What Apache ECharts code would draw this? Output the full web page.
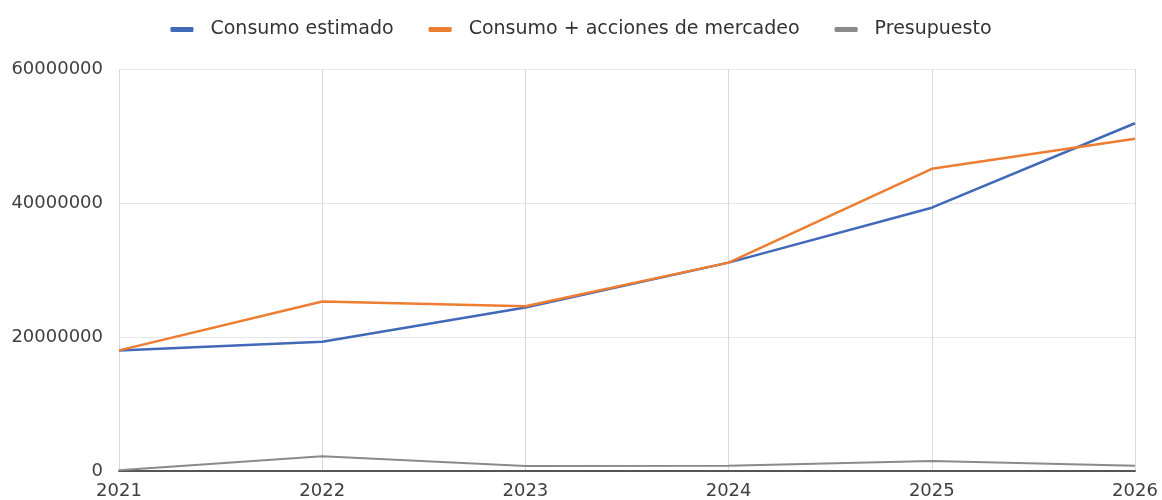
<!DOCTYPE html>
<html>
<head>
<meta charset="utf-8">
<script src="https://cdn.jsdelivr.net/npm/echarts@6/dist/echarts.min.js"></script>
<style>
  html, body { margin: 0; padding: 0; background: #ffffff; }
  #chart { width: 1162px; height: 500px; }
</style>
</head>
<body>
<div id="chart"></div>
<script>
// Years on the horizontal axis
const years = ['2021', '2022', '2023', '2024', '2025', '2026'];

// Series values
const consumoEstimado = [18000000, 19300000, 24400000, 31100000, 39300000, 51900000];
const consumoAcciones = [18000000, 25300000, 24600000, 31100000, 45100000, 49600000];
const presupuesto = [100000, 2200000, 750000, 800000, 1500000, 800000];

// Series names shown in the legend
const seriesNames = ['Consumo estimado', 'Consumo + acciones de mercadeo', 'Presupuesto'];
const seriesColors = ['#4169b8', '#ed7d31', '#8a8a8a'];

const chart = echarts.init(document.getElementById('chart'));

const axisFont = { fontFamily: 'DejaVu Sans', fontSize: 18, color: '#404040' };

chart.setOption({
  animation: false,
  backgroundColor: '#ffffff',
  color: seriesColors,
  legend: {
    top: 15,
    left: 'center',
    itemWidth: 23,
    itemHeight: 5,
    itemGap: 35,
    icon: 'roundRect',
    textStyle: {
      fontFamily: 'DejaVu Sans', fontSize: 19, color: '#333333',
      padding: [0, 0, 0, 12]
    },
    data: seriesNames
  },
  grid: { left: 119, right: 27, top: 69, bottom: 28 },
  xAxis: {
    type: 'category',
    data: years,
    boundaryGap: false,
    axisLine: { show: true, lineStyle: { color: '#555555', width: 2 } },
    axisTick: { show: false },
    axisLabel: Object.assign({ margin: 11 }, axisFont),
    splitLine: { show: true, lineStyle: { color: '#d9d9d9', width: 1 } }
  },
  yAxis: {
    type: 'value',
    min: 0,
    max: 60000000,
    interval: 20000000,
    axisLine: { show: false },
    axisTick: { show: false },
    axisLabel: Object.assign({ margin: 16, formatter: v => String(v) }, axisFont),
    splitLine: { show: true, lineStyle: { color: '#e6e6e6', width: 1 } }
  },
  series: [
    {
      name: seriesNames[0], type: 'line', data: consumoEstimado,
      symbol: 'none', lineStyle: { width: 2.5, color: seriesColors[0] }
    },
    {
      name: seriesNames[1], type: 'line', data: consumoAcciones,
      symbol: 'none', lineStyle: { width: 2.5, color: seriesColors[1] }
    },
    {
      name: seriesNames[2], type: 'line', data: presupuesto,
      symbol: 'none', lineStyle: { width: 2, color: seriesColors[2] }
    }
  ]
});
</script>
</body>
</html>
